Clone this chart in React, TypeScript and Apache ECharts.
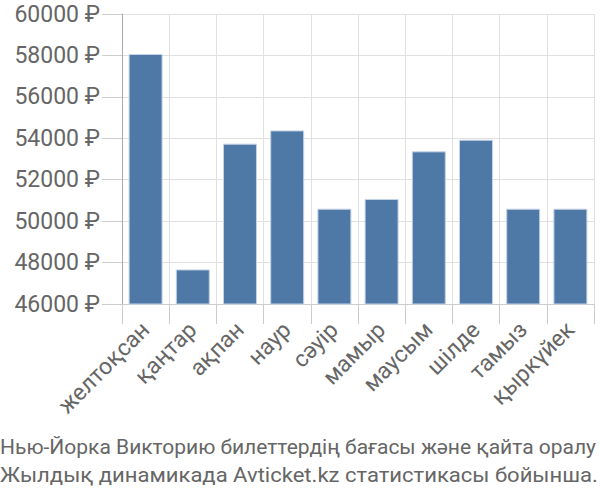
import React, { useEffect, useRef } from "react";
import * as echarts from "echarts";

const categories = ["желтоқсан", "қаңтар", "ақпан", "наур", "сәуір", "мамыр", "маусым", "шілде", "тамыз", "қыркүйек"];
const prices = [58070, 47670, 53740, 54380, 50600, 51070, 53370, 53930, 50600, 50600];
const titleLine1 = "Нью-Йорка Викторию билеттердің бағасы және қайта оралу";
const titleLine2 = "Жылдық динамикада Avticket.kz статистикасы бойынша.";

export default function App() {
  const ref = useRef<HTMLDivElement>(null);
  useEffect(() => {
    document.body.style.margin = "0";
    if (!ref.current) return;
    const chart = echarts.init(ref.current, null, { renderer: "svg" });
    chart.setOption({
      animation: false,
      backgroundColor: "#fff",
      graphic: [
        {
          type: "text",
          x: 0,
          y: 447,
          scaleX: 1.0,
          style: {
            text: titleLine1,
            font: "21px Roboto, sans-serif",
            fill: "#666",
            verticalAlign: "middle",
          },
        },
        {
          type: "text",
          x: 0,
          y: 475,
          scaleX: 1.05,
          style: {
            text: titleLine2,
            font: "21px Roboto, sans-serif",
            fill: "#666",
            verticalAlign: "middle",
          },
        },
      ],
      grid: { left: 122, right: 6, top: 14, bottom: 196, containLabel: false },
      xAxis: {
        type: "category",
        data: categories,
        axisLine: { show: true, lineStyle: { color: "#ccc" } },
        axisTick: { show: true, length: 20, lineStyle: { color: "#ccc" } },
        splitLine: { show: true, lineStyle: { color: "#e0e0e0" } },
        axisLabel: {
          rotate: 45,
          fontSize: 23,
          color: "#666",
          margin: 22,
          interval: 0,
          fontFamily: "Roboto",
        },
      },
      yAxis: {
        type: "value",
        min: 46000,
        max: 60000,
        interval: 2000,
        axisLine: { show: true, lineStyle: { color: "#aaa" } },
        axisTick: { show: true, length: 20, lineStyle: { color: "#ccc" } },
        splitLine: { show: true, lineStyle: { color: "#e0e0e0" } },
        axisLabel: {
          formatter: (v: number) => v + " ₽",
          fontSize: 23,
          color: "#666",
          margin: 22,
          fontFamily: "Roboto",
        },
      },
      series: [
        {
          type: "bar",
          data: prices,
          barCategoryGap: "28%",
          itemStyle: { color: "#4e79a7", borderColor: "#c5d3e6", borderWidth: 1 },
        },
      ],
    });
    return () => chart.dispose();
  }, []);
  return <div ref={ref} style={{ width: 600, height: 500 }} />;
}
